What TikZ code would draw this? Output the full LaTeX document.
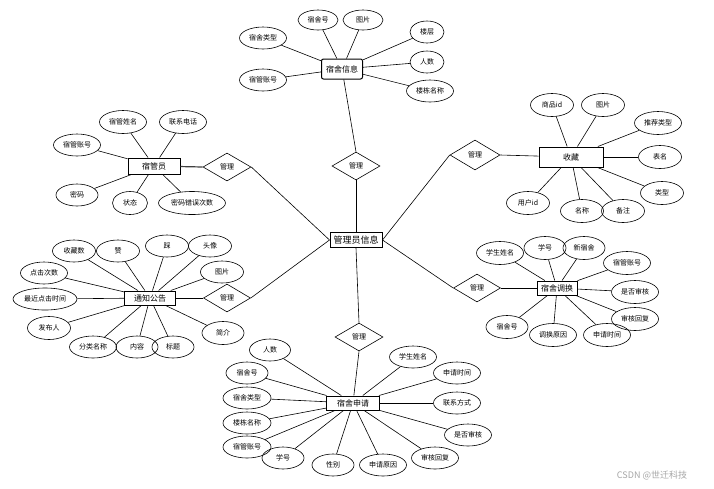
\documentclass[tikz,border=0pt]{standalone}
\usepackage{fontspec}
\newfontfamily\cjk{Noto Sans CJK SC}
\usetikzlibrary{shapes.geometric}
\begin{document}
\begin{tikzpicture}[x=1pt,y=-1pt,
  attr/.style={ellipse, draw, line width=0.6pt, minimum width=42pt, minimum height=22pt, inner sep=0.3pt, font=\cjk\fontsize{7}{7}\selectfont},
  ent/.style={rectangle, draw, line width=1pt, minimum height=15pt, inner sep=2pt, font=\cjk\fontsize{8}{8}\selectfont},
  rel/.style={diamond, draw, line width=0.6pt, minimum width=48pt, minimum height=28pt, inner sep=0pt, font=\cjk\fontsize{7}{7}\selectfont},
  link/.style={line width=0.6pt}]
\useasboundingbox[fill=white] (0,0) rectangle (714,488);

% center
\node[ent, minimum width=52pt, minimum height=15pt, inner sep=1pt, font=\cjk\fontsize{9}{9}\selectfont] (center) at (356,240) {管理员信息};

% 宿舍信息
\node[ent, rounded corners=2pt, minimum width=41pt, minimum height=20pt] (ssxx) at (342,69) {宿舍信息};
\node[attr, minimum width=40pt, minimum height=20pt] (a1) at (318,20) {宿舍号};
\node[attr, minimum width=40pt, minimum height=20pt] (a2) at (363,20) {图片};
\node[attr, minimum width=47pt] (a3) at (263,38) {宿舍类型};
\node[attr, minimum width=47pt] (a4) at (263,80) {宿管账号};
\node[attr, minimum width=34pt] (a5) at (427,32) {楼层};
\node[attr, minimum width=34pt] (a6) at (427,62) {人数};
\node[attr, minimum width=47pt] (a7) at (430,91) {楼栋名称};
\foreach \n in {a1,a2,a3,a4,a5,a6,a7} \draw[link] (\n) -- (ssxx);
\node[rel] (r1) at (356,166) {管理};
\draw[link] (ssxx) -- (r1.north);
\draw[link] (r1.south) -- (center.north);

% 宿管员
\node[ent, minimum width=52pt, minimum height=16pt] (sgy) at (154,166) {宿管员};
\node[attr, minimum width=47pt, minimum height=23pt] (b1) at (123,122) {宿管姓名};
\node[attr, minimum width=47pt, minimum height=23pt] (b2) at (183,122) {联系电话};
\node[attr, minimum width=47pt] (b3) at (77,145) {宿管账号};
\node[attr, minimum width=42pt] (b4) at (77,195) {密码};
\node[attr, minimum width=35pt, minimum height=23pt] (b5) at (130,203) {状态};
\node[attr, minimum width=67pt, minimum height=23pt] (b6) at (192,203) {密码错误次数};
\foreach \n in {b1,b2,b3,b4,b5,b6} \draw[link] (\n) -- (sgy);
\node[rel] (r2) at (227,167) {管理};
\draw[line width=1.2pt, black!75] (sgy) -- (r2.west);
\draw[link] (r2.east) -- (center.west);

% 收藏
\node[ent, minimum width=64pt, minimum height=20pt] (sc) at (571,157) {收藏};
\node[attr, minimum width=43pt, minimum height=23pt] (c1) at (552,105) {商品id};
\node[attr, minimum width=43pt, minimum height=23pt] (c2) at (603,105) {图片};
\node[attr, minimum width=47pt, minimum height=23pt] (c3) at (658,123) {推荐类型};
\node[attr, minimum width=43pt, minimum height=23pt] (c4) at (660,157) {表名};
\node[attr, minimum width=43pt, minimum height=23pt] (c5) at (662,193) {类型};
\node[attr, minimum width=43pt, minimum height=23pt] (c6) at (528,203) {用户id};
\node[attr, minimum width=43pt, minimum height=23pt] (c7) at (582,211) {名称};
\node[attr, minimum width=43pt, minimum height=23pt] (c8) at (623,211) {备注};
\foreach \n in {c1,c2,c3,c4,c5,c6,c7,c8} \draw[link] (\n) -- (sc);
\node[rel, minimum width=50pt, minimum height=30pt] (r3) at (475,155) {管理};
\draw[link] (r3.east) -- (sc);
\draw[link] (r3.west) -- (center.east);

% 通知公告
\node[ent, minimum width=51pt, minimum height=14pt] (tz) at (150,298) {通知公告};
\node[attr, minimum width=43pt] (d1) at (74,251) {收藏数};
\node[attr, minimum width=43pt] (d2) at (118,251) {赞};
\node[attr, minimum width=43pt] (d3) at (167,246) {踩};
\node[attr, minimum width=43pt] (d4) at (210,246) {头像};
\node[attr, minimum width=43pt] (d5) at (222,272) {图片};
\node[attr, minimum width=47pt] (d6) at (44,273) {点击次数};
\node[attr, minimum width=64pt] (d7) at (45,299) {最近点击时间};
\node[attr, minimum width=43pt, minimum height=23pt] (d8) at (49,328) {发布人};
\node[attr, minimum width=47pt] (d9) at (93,347) {分类名称};
\node[attr, minimum width=42pt] (d10) at (137,347) {内容};
\node[attr, minimum width=42pt] (d11) at (173,347) {标题};
\node[attr, minimum width=42pt, minimum height=23pt] (d12) at (223,333) {简介};
\foreach \n in {d1,d2,d3,d4,d5,d6,d7,d8,d9,d10,d11,d12} \draw[link] (\n) -- (tz);
\node[rel, minimum width=47pt] (r4) at (227,298) {管理};
\draw[link] (tz) -- (r4.west);
\draw[link] (r4.east) -- (center.west);

% 宿舍调换
\node[ent, minimum width=40pt, minimum height=14pt] (ssdh) at (557,288) {宿舍调换};
\node[attr, minimum width=47pt, minimum height=23pt] (e1) at (500,253) {学生姓名};
\node[attr, minimum width=42pt, minimum height=23pt] (e2) at (545,248) {学号};
\node[attr, minimum width=42pt, minimum height=23pt] (e3) at (584,248) {新宿舍};
\node[attr, minimum width=47pt, minimum height=23pt] (e4) at (627,263) {宿管账号};
\node[attr, minimum width=47pt, minimum height=23pt] (e5) at (635,292) {是否审核};
\node[attr, minimum width=47pt, minimum height=23pt] (e6) at (635,319) {审核回复};
\node[attr, minimum width=42pt, minimum height=23pt] (e7) at (507,327) {宿舍号};
\node[attr, minimum width=47pt, minimum height=23pt] (e8) at (553,335) {调换原因};
\node[attr, minimum width=47pt, minimum height=23pt] (e9) at (607,335) {申请时间};
\foreach \n in {e1,e2,e3,e4,e5,e6,e7,e8,e9} \draw[link] (\n) -- (ssdh);
\node[rel, minimum width=47pt] (r5) at (477,288) {管理};
\draw[link] (r5.east) -- (ssdh);
\draw[link] (r5.west) -- (center.east);

% 宿舍申请
\node[ent, minimum width=53pt, minimum height=14pt] (sssq) at (353,403) {宿舍申请};
\node[attr, minimum width=41pt] (f1) at (270,350) {人数};
\node[attr, minimum width=42pt] (f2) at (247,373) {宿舍号};
\node[attr, minimum width=48pt] (f3) at (247,398) {宿舍类型};
\node[attr, minimum width=48pt] (f4) at (247,423) {楼栋名称};
\node[attr, minimum width=48pt] (f5) at (247,447) {宿管账号};
\node[attr, minimum width=42pt] (f6) at (283,458) {学号};
\node[attr, minimum width=42pt] (f7) at (333,465) {性别};
\node[attr, minimum width=47pt] (f8) at (383,465) {申请原因};
\node[attr, minimum width=47pt] (f9) at (435,458) {审核回复};
\node[attr, minimum width=47pt] (f10) at (468,435) {是否审核};
\node[attr, minimum width=47pt] (f11) at (457,403) {联系方式};
\node[attr, minimum width=47pt] (f12) at (457,373) {申请时间};
\node[attr, minimum width=47pt] (f13) at (413,357) {学生姓名};
\foreach \n in {f1,f2,f3,f4,f5,f6,f7,f8,f9,f10,f11,f12,f13} \draw[link] (\n) -- (sssq);
\node[rel] (r6) at (359,337) {管理};
\draw[link] (center.south) -- (r6.north);
\draw[link] (r6.south) -- (sssq);

% watermark
\node[font=\cjk\fontsize{9}{9}\selectfont, text=black!35] (wm) at (652,475) {CSDN @世迁科技};
\end{tikzpicture}
\end{document}
